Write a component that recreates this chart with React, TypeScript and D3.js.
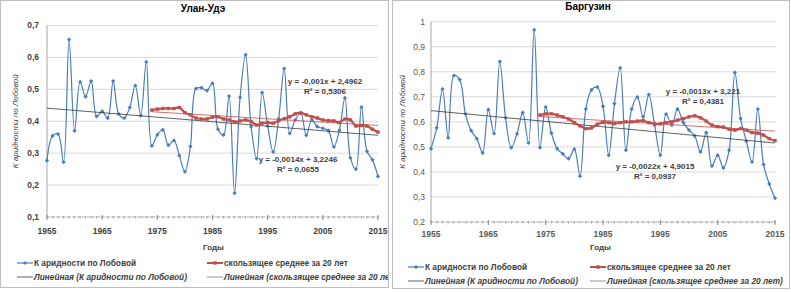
import React from "react";
import * as d3 from "d3";

const START_YEAR = 1955;
const MA_START_YEAR = 1974;
const xTickYears = [1955, 1965, 1975, 1985, 1995, 2005, 2015];

const ulanUdeValues = [
  0.277, 0.354, 0.36, 0.272, 0.656, 0.37, 0.523, 0.477, 0.526, 0.415,
  0.431, 0.41, 0.526, 0.423, 0.41, 0.443, 0.512, 0.418, 0.586, 0.323,
  0.358, 0.373, 0.325, 0.34, 0.292, 0.242, 0.321, 0.502, 0.505, 0.496,
  0.519, 0.375, 0.357, 0.479, 0.175, 0.475, 0.608, 0.383, 0.283, 0.49,
  0.385, 0.304, 0.408, 0.565, 0.362, 0.404, 0.425, 0.356, 0.404, 0.383,
  0.378, 0.371, 0.32, 0.372, 0.473, 0.285, 0.25, 0.444, 0.306, 0.279,
  0.227,
];
const ulanUdeMA = [
  0.435, 0.438, 0.44, 0.44, 0.44, 0.443, 0.427, 0.42, 0.41, 0.407,
  0.407, 0.413, 0.414, 0.407, 0.404, 0.398, 0.401, 0.404, 0.399, 0.388,
  0.394, 0.396, 0.394, 0.402, 0.408, 0.414, 0.423, 0.426, 0.42, 0.414,
  0.41, 0.404, 0.402, 0.401, 0.396, 0.407, 0.404, 0.385, 0.387, 0.385,
  0.375, 0.366,
];
const ulanUdeYTicks = [0.1, 0.2, 0.3, 0.4, 0.5, 0.6, 0.7];

const barguzinValues = [
  0.493, 0.576, 0.731, 0.536, 0.785, 0.769, 0.632, 0.565, 0.533, 0.476,
  0.649, 0.553, 0.841, 0.616, 0.497, 0.552, 0.637, 0.516, 0.967, 0.497,
  0.659, 0.555, 0.493, 0.472, 0.453, 0.491, 0.383, 0.651, 0.728, 0.739,
  0.662, 0.467, 0.673, 0.816, 0.487, 0.651, 0.699, 0.62, 0.709, 0.587,
  0.467, 0.631, 0.587, 0.651, 0.597, 0.567, 0.544, 0.48, 0.557, 0.424,
  0.467, 0.416, 0.487, 0.797, 0.613, 0.523, 0.44, 0.651, 0.43, 0.352,
  0.295,
];
const barguzinMA = [
  0.627, 0.632, 0.632, 0.627, 0.62, 0.611, 0.597, 0.584, 0.573, 0.576,
  0.59, 0.598, 0.597, 0.593, 0.597, 0.6, 0.6, 0.603, 0.605, 0.597,
  0.592, 0.592, 0.597, 0.6, 0.607, 0.613, 0.62, 0.624, 0.616, 0.603,
  0.587, 0.581, 0.579, 0.571, 0.567, 0.573, 0.567, 0.557, 0.555, 0.547,
  0.533, 0.525,
];
const barguzinYTicks = [0.2, 0.3, 0.4, 0.5, 0.6, 0.7, 0.8, 0.9, 1];

const seriesName = "К аридности по Лобовой";
const maName = "скользящее среднее за 20 лет";
const trendName = "Линейная (К аридности по Лобовой)";
const maTrendName = "Линейная (скользящее среднее за 20 лет)";
const yTitle = "К аридности по Лобовой";
const xTitle = "Годы";

const BLUE = "#4a7ebb";
const RED = "#c0504d";
const TREND = "#3a3a3a";
const GRID = "#d9d9d9";
const FONT = "'Liberation Sans', Arial, sans-serif";

type Pt = { year: number; v: number };

function fit(pts: Pt[]) {
  const mx = d3.mean(pts, (p) => p.year)!;
  const my = d3.mean(pts, (p) => p.v)!;
  let sxy = 0, sxx = 0;
  pts.forEach((p) => {
    sxy += (p.year - mx) * (p.v - my);
    sxx += (p.year - mx) * (p.year - mx);
  });
  const b = sxy / sxx;
  const a = my - b * mx;
  return (x: number) => a + b * x;
}

const fmt = (v: number) => (v === 1 ? "1" : v.toFixed(1).replace(".", ","));

type ChartProps = {
  left: number;
  width: number;
  title: string;
  titleX: number;
  titleY: number;
  values: number[];
  ma: number[];
  yTicks: number[];
  xRange: [number, number];
  yRange: [number, number];
  gridRight: number;
  yTitleX: number;
  labelRight: number;
  xLabelY: number;
  bold: boolean;
  eq1: { text: string; r2: string; x: number; y: number };
  eq2: { text: string; r2: string; x: number; y: number };
  legend: { x1: number; x2: number; y1: number; y2: number };
  xTitlePos: [number, number];
};

function Chart(p: ChartProps) {
  const pts: Pt[] = p.values.map((v, i) => ({ year: START_YEAR + i, v }));
  const maPts: Pt[] = p.ma.map((v, i) => ({ year: MA_START_YEAR + i, v }));
  const x = d3.scaleLinear().domain([START_YEAR, START_YEAR + p.values.length - 1]).range(p.xRange);
  const yDom = d3.extent(p.yTicks) as [number, number];
  const y = d3.scaleLinear().domain(yDom).range(p.yRange);
  const line = d3
    .line<Pt>()
    .x((d) => x(d.year))
    .y((d) => y(d.v))
    .curve(d3.curveCatmullRom.alpha(0.5));
  const lin = d3.line<Pt>().x((d) => x(d.year)).y((d) => y(d.v));
  const t1 = fit(pts);
  const t2 = fit(maPts);
  const trend1: Pt[] = [pts[0], pts[pts.length - 1]].map((d) => ({ year: d.year, v: t1(d.year) }));
  const trend2: Pt[] = [maPts[0], maPts[maPts.length - 1]].map((d) => ({ year: d.year, v: t2(d.year) }));
  const minorYears = d3.range(START_YEAR, START_YEAR + p.values.length);
  const fw = p.bold ? 700 : 400;
  const tickColor = p.bold ? "#404040" : "#595959";
  const eqStyle = { fontSize: 8, fontFamily: FONT, fill: "#404040", fontWeight: 700 };
  const lg = p.legend;
  return (
    <g>
      <text x={p.titleX} y={p.titleY} textAnchor="middle"
        style={{ fontSize: 10, fontWeight: 700, fontFamily: FONT, fill: "#000" }}>
        {p.title}
      </text>
      {p.yTicks.map((t) => (
        <line key={"g" + t} x1={p.xRange[0]} x2={p.gridRight} y1={y(t)} y2={y(t)} stroke={GRID} strokeWidth={1} />
      ))}
      <line x1={p.xRange[0]} x2={p.xRange[0]} y1={p.yRange[1]} y2={p.yRange[0]} stroke="#a6a6a6" />
      <line x1={p.xRange[0]} x2={p.gridRight} y1={p.yRange[0]} y2={p.yRange[0]} stroke="#bfbfbf" strokeDasharray="3,2" />
      {minorYears.map((yr) => (
        <line key={"m" + yr} x1={x(yr)} x2={x(yr)} y1={p.yRange[0] - 1} y2={p.yRange[0] + 1.5} stroke="#a6a6a6" />
      ))}
      {xTickYears.map((yr) => (
        <line key={"M" + yr} x1={x(yr)} x2={x(yr)} y1={p.yRange[0] - 2} y2={p.yRange[0] + 3} stroke="#8c8c8c" />
      ))}
      {p.yTicks.map((t) => (
        <text key={"yl" + t} x={p.labelRight} y={y(t)} dy="0.35em" textAnchor="end"
          style={{ fontSize: 8.5, fontWeight: fw, fontFamily: FONT, fill: tickColor }}>
          {fmt(t)}
        </text>
      ))}
      {xTickYears.map((yr) => (
        <text key={"xl" + yr} x={x(yr)} y={p.xLabelY} dy="0.35em" textAnchor="middle"
          style={{ fontSize: 8.5, fontWeight: 700, fontFamily: FONT, fill: tickColor }}>
          {yr}
        </text>
      ))}
      <text transform={`translate(${p.yTitleX},${(p.yRange[0] + p.yRange[1]) / 2}) rotate(-90)`} textAnchor="middle"
        dy="0.35em" style={{ fontSize: 8, fontFamily: FONT, fill: "#404040", fontStyle: "italic" }}>
        {yTitle}
      </text>
      <text x={p.xTitlePos[0]} y={p.xTitlePos[1]} dy="0.35em"
        style={{ fontSize: 8, fontWeight: 700, fontFamily: FONT, fill: "#404040" }}>
        {xTitle}
      </text>
      <path d={line(pts) || ""} fill="none" stroke={BLUE} strokeWidth={1.2} />
      {pts.map((d) => (
        <rect key={"d" + d.year} x={x(d.year) - 1.5} y={y(d.v) - 1.5} width={3} height={3} fill={BLUE}
          transform={`rotate(45,${x(d.year)},${y(d.v)})`} />
      ))}
      <path d={lin(trend1) || ""} fill="none" stroke={TREND} strokeWidth={0.8} />
      <path d={line(maPts) || ""} fill="none" stroke={RED} strokeWidth={2.2} />
      {maPts.map((d) => (
        <rect key={"s" + d.year} x={x(d.year) - 1.7} y={y(d.v) - 1.7} width={3.4} height={3.4} fill={RED} />
      ))}
      <path d={lin(trend2) || ""} fill="none" stroke={RED} strokeWidth={0.8} />
      <text x={p.eq1.x} y={p.eq1.y} textAnchor="middle" dy="0.35em" style={eqStyle}>{p.eq1.text}</text>
      <text x={p.eq1.x} y={p.eq1.y + 10} textAnchor="middle" dy="0.35em" style={eqStyle}>{p.eq1.r2}</text>
      <text x={p.eq2.x} y={p.eq2.y} textAnchor="middle" dy="0.35em" style={eqStyle}>{p.eq2.text}</text>
      <text x={p.eq2.x} y={p.eq2.y + 10} textAnchor="middle" dy="0.35em" style={eqStyle}>{p.eq2.r2}</text>
      {/* legend */}
      <line x1={lg.x1} x2={lg.x1 + 16} y1={lg.y1} y2={lg.y1} stroke={BLUE} strokeWidth={1.2} />
      <rect x={lg.x1 + 6.5} y={lg.y1 - 1.5} width={3} height={3} fill={BLUE}
        transform={`rotate(45,${lg.x1 + 8},${lg.y1})`} />
      <text x={lg.x1 + 17} y={lg.y1} dy="0.35em" style={{ fontSize: 8.3, fontFamily: FONT, fill: "#404040", fontWeight: 700 }}>
        {seriesName}
      </text>
      <line x1={lg.x1} x2={lg.x1 + 16} y1={lg.y2} y2={lg.y2} stroke={TREND} strokeWidth={0.8} />
      <text x={lg.x1 + 17} y={lg.y2} dy="0.35em"
        style={{ fontSize: 8.3, fontFamily: FONT, fill: "#404040", fontWeight: 700, fontStyle: "italic" }}>
        {trendName}
      </text>
      <line x1={lg.x2} x2={lg.x2 + 16} y1={lg.y1} y2={lg.y1} stroke={RED} strokeWidth={2} />
      <rect x={lg.x2 + 6.3} y={lg.y1 - 1.7} width={3.4} height={3.4} fill={RED} />
      <text x={lg.x2 + 17} y={lg.y1} dy="0.35em" style={{ fontSize: 8.3, fontFamily: FONT, fill: "#404040", fontWeight: 700 }}>
        {maName}
      </text>
      <line x1={lg.x2} x2={lg.x2 + 16} y1={lg.y2} y2={lg.y2} stroke="#7f7f7f" strokeWidth={0.8} />
      <text x={lg.x2 + 17} y={lg.y2} dy="0.35em"
        style={{ fontSize: 8.3, fontFamily: FONT, fill: "#404040", fontWeight: 700, fontStyle: "italic" }}>
        {maTrendName}
      </text>
    </g>
  );
}

export default function App() {
  return (
    <svg width={791} height={292} style={{ position: "absolute", left: 0, top: 0, background: "#fff" }}
      xmlns="http://www.w3.org/2000/svg">
      <defs>
        <clipPath id="clipL"><rect x={0} y={0} width={388} height={292} /></clipPath>
        <clipPath id="clipR"><rect x={392} y={0} width={399} height={292} /></clipPath>
      </defs>
      <rect x={0} y={0} width={791} height={292} fill="#fff" />
      <g clipPath="url(#clipL)">
        <Chart
          left={0} width={388} title="Улан-Удэ" titleX={203} titleY={12}
          values={ulanUdeValues} ma={ulanUdeMA} yTicks={ulanUdeYTicks}
          xRange={[47, 378]} yRange={[217, 25.5]} gridRight={378}
          yTitleX={15} labelRight={39} xLabelY={231} bold={true}
          eq1={{ text: "y = -0,001x + 2,4962", r2: "R² = 0,5306", x: 325, y: 81 }}
          eq2={{ text: "y = -0,0014x + 3,2246", r2: "R² = 0,0655", x: 298, y: 159 }}
          legend={{ x1: 17, x2: 207, y1: 263, y2: 277 }}
          xTitlePos={[203, 247]}
        />
      </g>
      <rect x={0.5} y={0.5} width={388} height={287} fill="none" stroke="#bfbfbf" />
      <g clipPath="url(#clipR)">
        <Chart
          left={392} width={399} title="Баргузин" titleX={588} titleY={10}
          values={barguzinValues} ma={barguzinMA} yTicks={barguzinYTicks}
          xRange={[431, 775]} yRange={[222, 21.7]} gridRight={776}
          yTitleX={402} labelRight={425} xLabelY={234} bold={false}
          eq1={{ text: "y = -0,0013x + 3,221", r2: "R² = 0,4381", x: 703, y: 91 }}
          eq2={{ text: "y = -0,0022x + 4,9015", r2: "R² = 0,0937", x: 655, y: 166 }}
          legend={{ x1: 408, x2: 590, y1: 267, y2: 281 }}
          xTitlePos={[590, 247]}
        />
      </g>
      <rect x={392.5} y={0.5} width={397} height={288} fill="none" stroke="#bfbfbf" />
    </svg>
  );
}
